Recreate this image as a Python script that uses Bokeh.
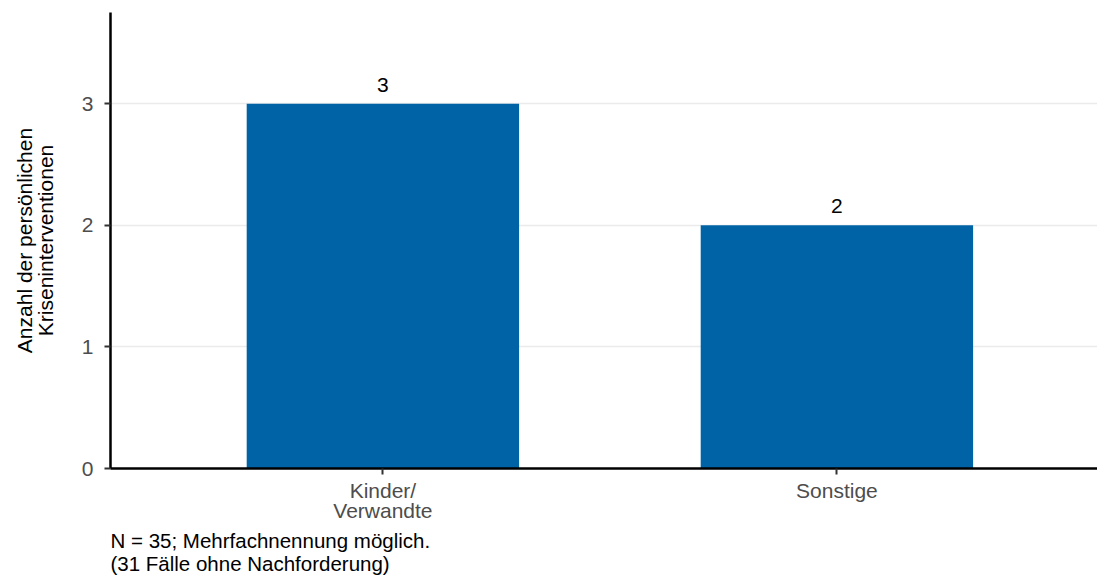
from bokeh.plotting import figure
from bokeh.models import Range1d, FixedTicker, Title, ColumnDataSource
from bokeh.embed import file_html
from bokeh.resources import INLINE
from bokeh.core.properties import value

categories = ["Kinder/\nVerwandte", "Sonstige"]
counts = [3, 2]
positions = [1, 2]
y_ticks = [0, 1, 2, 3]
y_title = "Anzahl der persönlichen\nKriseninterventionen"
footer_lines = ["N = 35; Mehrfachnennung möglich.", "(31 Fälle ohne Nachforderung)"]

FONT = "Liberation Sans"
BAR_COLOR = "#0063A6"

src = ColumnDataSource(dict(x=positions, top=counts, lab=[str(c) for c in counts]))

p = figure(width=1097, height=577, output_backend="svg", toolbar_location=None,
           x_range=Range1d(0.4, 2.574), y_range=Range1d(0, 3.75),
           min_border_left=110, min_border_right=0, min_border_top=12, min_border_bottom=109)
p.outline_line_color = None
p.background_fill_color = "white"
p.border_fill_color = "white"

p.vbar(x="x", top="top", width=0.6, bottom=0, source=src, color=BAR_COLOR, line_color=None)
p.text(x="x", y="top", text="lab", source=src, text_align="center", text_baseline="alphabetic",
       y_offset=-19, text_font=value(FONT), text_font_size="21px", text_color="black")

# axes
p.xaxis.ticker = FixedTicker(ticks=positions)
p.xaxis.major_label_overrides = {pos: cat for pos, cat in zip(positions, categories)}
p.yaxis.ticker = FixedTicker(ticks=y_ticks)
for ax in (p.xaxis[0], p.yaxis[0]):
    ax.axis_line_color = "black"
    ax.axis_line_width = 2.5
    ax.major_tick_line_color = "#333333"
    ax.major_tick_line_width = 2
    ax.major_tick_out = 6
    ax.major_tick_in = 0
    ax.minor_tick_line_color = None
    ax.major_label_text_font = FONT
    ax.major_label_text_font_size = "21px"
    ax.major_label_text_color = "#4d4d4d"
    ax.major_label_text_line_height = 0.9
p.xaxis.major_label_standoff = 4
p.yaxis.major_label_standoff = 11
p.yaxis.axis_label = y_title
p.yaxis.axis_label_text_font = FONT
p.yaxis.axis_label_text_font_size = "21px"
p.yaxis.axis_label_text_font_style = "normal"
p.yaxis.axis_label_text_color = "black"
p.yaxis.axis_label_text_line_height = 0.9
p.yaxis.axis_label_standoff = 22

p.xgrid.grid_line_color = None
p.ygrid.ticker = FixedTicker(ticks=[1, 2, 3])
p.ygrid.grid_line_color = "#ebebeb"
p.ygrid.grid_line_width = 1.5

# footer note
p.add_layout(Title(text="\n".join(footer_lines), align="left", text_font=FONT,
                   text_font_size="20.5px", text_font_style="normal", text_color="black",
                   text_line_height=1.0, standoff=3, offset=0), "below")

open("out.html", "w").write(file_html(p, INLINE))
